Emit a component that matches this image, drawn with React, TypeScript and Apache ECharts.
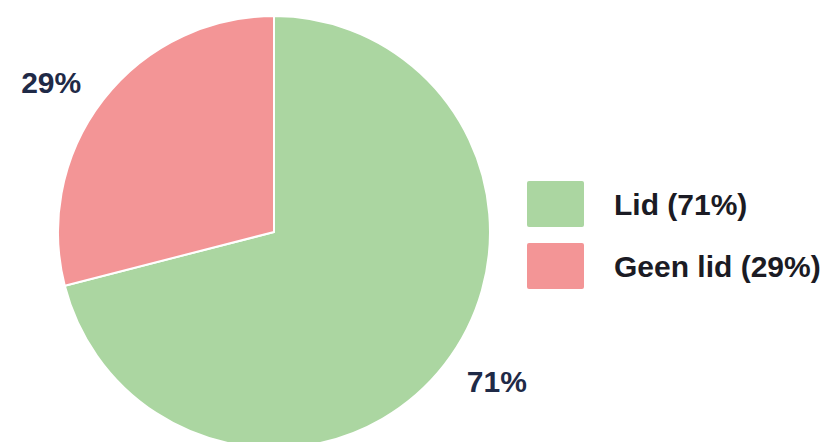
import React, { useEffect, useRef } from "react";
import * as echarts from "echarts";

const categories = ["Lid", "Geen lid"];
const values = [71, 29];
const colors = ["#abd6a1", "#f39596"];

export default function App() {
  const ref = useRef<HTMLDivElement>(null);
  useEffect(() => {
    if (!ref.current) return;
    const chart = echarts.init(ref.current, null, { renderer: "svg" });
    const total = values.reduce((a, b) => a + b, 0);
    const pct = (name: string) => {
      const i = categories.indexOf(name);
      return Math.round((values[i] / total) * 100);
    };
    chart.setOption({
      animation: false,
      backgroundColor: "#ffffff",
      legend: {
        orient: "vertical",
        left: 520,
        top: 174,
        itemWidth: 59,
        itemHeight: 48,
        itemGap: 12,
        icon: "path://M3,0 H56 Q59,0 59,3 V45 Q59,48 56,48 H3 Q0,48 0,45 V3 Q0,0 3,0 Z",
        data: categories,
        formatter: (name: string) => `${name} (${pct(name)}%)`,
        textStyle: {
          fontFamily: "Liberation Sans, Arial, sans-serif",
          fontWeight: "bold",
          fontSize: 30,
          color: "#1b1b24",
          padding: [0, 0, 0, 24],
        },
      },
      series: [
        {
          type: "pie",
          center: [274, 232],
          radius: [0, 216],
          startAngle: 90,
          clockwise: true,
          silent: true,
          itemStyle: { borderColor: "#ffffff", borderWidth: 2 },
          label: {
            show: true,
            position: "outside",
            distanceToLabelLine: 0,
            formatter: (p: any) => `${Math.round(p.percent)}%`,
            fontFamily: "Liberation Sans, Arial, sans-serif",
            fontWeight: "bold",
            fontSize: 30,
            color: "#1f2a47",
          },
          labelLine: { show: false, length: 28, length2: 0 },
          data: categories.map((c, i) => ({
            name: c,
            value: values[i],
            itemStyle: { color: colors[i] },
          })),
        },
      ],
    });
    return () => chart.dispose();
  }, []);
  return (
    <div
      ref={ref}
      style={{ position: "absolute", left: 0, top: 0, width: 838, height: 442 }}
    />
  );
}
